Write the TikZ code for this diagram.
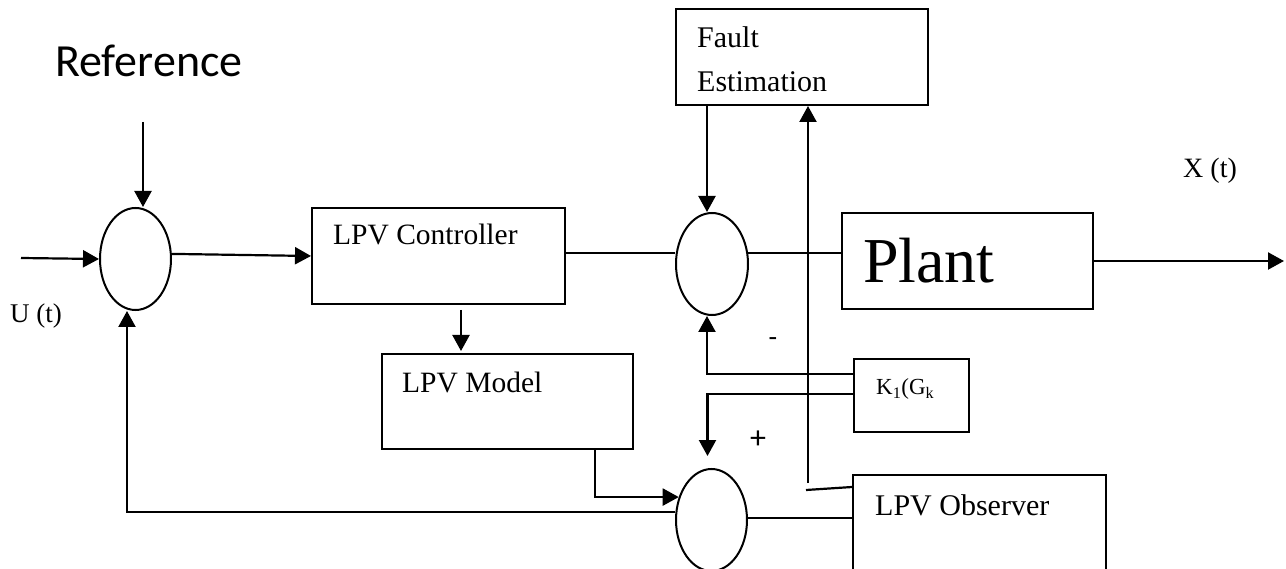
\documentclass[tikz,border=0pt]{standalone}
\usepackage{fontspec}
\setmainfont{Liberation Serif}
\newfontfamily\calib{Carlito}
\usetikzlibrary{shapes.geometric,arrows.meta}
\begin{document}
\begin{tikzpicture}[x=1pt,y=-1pt,
  box/.style={draw,line width=2pt,rectangle,inner sep=0pt},
  sumnode/.style={draw,line width=2pt,ellipse,inner sep=0pt},
  lbl/.style={inner sep=0pt,anchor=base west},
  conn/.style={line width=2.2pt},
  arr/.style={conn,-{Triangle[length=16pt,width=17pt]}}]
\clip (0,0) rectangle (1286,569);
\fill[white] (0,0) rectangle (1286,569);
% blocks
\node[box,minimum width=253pt,minimum height=96pt] (ctrl) at (438.5,256) {};
\node[box,minimum width=251pt,minimum height=95pt] (model) at (507.5,401.5) {};
\node[box,minimum width=252pt,minimum height=96pt] (fault) at (802,57) {};
\node[box,minimum width=251pt,minimum height=96pt] (plant) at (967.5,261) {};
\node[box,minimum width=115pt,minimum height=73pt] (kbox) at (911.5,395.5) {};
\node[box,minimum width=253pt,minimum height=96pt] (obs) at (979.5,523) {};
% summing junctions
\node[sumnode,minimum width=71pt,minimum height=102pt] (S1) at (135.5,259) {};
\node[sumnode,minimum width=72pt,minimum height=102pt] (S2) at (712,264) {};
\node[sumnode,minimum width=71pt,minimum height=102pt] (S3) at (711.5,520) {};
% texts
\node[lbl] (tref) at (55,77) {\calib\fontsize{46}{55}\selectfont Reference};
\node[lbl] (tu) at (10,323) {\fontsize{27}{32}\selectfont U (t)};
\node[lbl] (tx) at (1183,178) {\fontsize{28}{33}\selectfont X (t)};
\node[lbl] (tplant) at (863,283) {\fontsize{64}{75}\selectfont Plant};
\node[lbl] (tctrl) at (333,245) {\fontsize{29.5}{35}\selectfont LPV Controller};
\node[lbl] (tmodel) at (402,393) {\fontsize{29.5}{35}\selectfont LPV Model};
\node[lbl] (tfault1) at (697,48) {\fontsize{30}{36}\selectfont Fault};
\node[lbl] (tfault2) at (697,92) {\fontsize{30}{36}\selectfont Estimation};
\node[lbl] (tobs) at (875,515) {\fontsize{30}{36}\selectfont LPV Observer};
\node[lbl] (tk) at (876,395) {\fontsize{23}{27}\selectfont K\textsubscript{1}(G\textsubscript{k}};
\node[inner sep=0pt] (tminus) at (773,342) {\calib\fontsize{28}{32}\selectfont -};
\node[inner sep=0pt] (tplus) at (758,440) {\calib\fontsize{32}{38}\selectfont +};
% free ends
\coordinate (uin) at (21,258);
\coordinate (refin) at (143,122);
\coordinate (xout) at (1284,263);
\coordinate (fb) at (808,483);
% connectors
\draw[arr] (uin) -- (S1.west);
\draw[arr] (refin) -- (refin |- S1.north);
\draw[arr] (S1.8) -- (ctrl.west);
\draw[arr,shorten <=5pt,shorten >=2pt] ([xshift=22.5pt]ctrl.south) -- ([xshift=22.5pt]ctrl.south |- model.north);
\draw[conn] ([yshift=3pt]ctrl.east) -- ([yshift=3pt]ctrl.east -| S2.west);
\draw[conn] (S2.17) -- (S2.17 -| plant.west);
\draw[arr] (plant.east) -- (xout |- plant.east);
\draw[arr] ([xshift=-95pt]fault.south) -- ([xshift=-95pt]fault.south |- S2.north);
\draw[arr] ([yshift=21.5pt]kbox.west) -| ([xshift=-5pt]S2.south);
\draw[arr] ([yshift=1.5pt]kbox.west) -| ([xshift=-4pt,yshift=12pt]S3.north);
\draw[arr] ([xshift=87.5pt]model.south) |- (S3.145.5);
\draw[arr] (S3.167) -| ([xshift=-8.5pt]S1.south);
\draw[conn] ([yshift=2pt]S3.east) -- ([yshift=2pt]S3.east -| obs.west);
\draw[conn] ([yshift=36pt]obs.west) -- ++(-46,3);
\draw[arr] (fb) -- (fb |- fault.south);
\end{tikzpicture}
\end{document}
